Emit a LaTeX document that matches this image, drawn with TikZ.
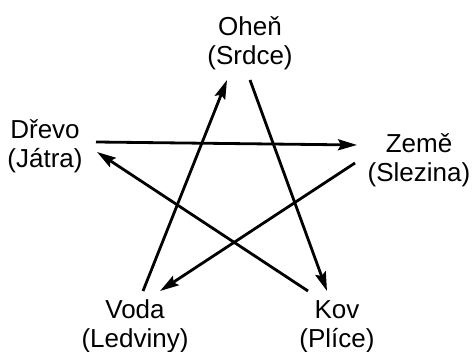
\documentclass[tikz,border=0pt]{standalone}
\usepackage{fontspec}
\setmainfont{Liberation Sans}
\usetikzlibrary{arrows.meta}
\begin{document}
\begin{tikzpicture}[x=1pt,y=1pt,
  lbl/.style={align=center,anchor=base,inner sep=0pt,font=\fontsize{26}{29}\selectfont},
  conn/.style={line width=2.8pt,-{Stealth[length=19pt,width=11pt,inset=3pt]}}]
\useasboundingbox (0,0) rectangle (473,-352);
\node[lbl] (ohen)  at (250,-65)  {Oheň\\(Srdce)};
\node[lbl] (drevo) at (45,-168)  {Dřevo\\(Játra)};
\node[lbl] (zeme)  at (419,-182) {Země\\(Slezina)};
\node[lbl] (voda)  at (135,-347) {Voda\\(Ledviny)};
\node[lbl] (kov)   at (337,-347) {Kov\\(Plíce)};
\draw[conn] ([xshift=51pt,yshift=26pt]drevo.base) -- ([xshift=-62pt,yshift=37pt]zeme.base);
\draw[conn] ([xshift=-64pt,yshift=19pt]zeme.base) -- ([xshift=25pt,yshift=56pt]voda.base);
\draw[conn] ([xshift=8pt,yshift=56pt]voda.base) -- ([xshift=-23pt,yshift=-15pt]ohen.base);
\draw[conn] ([xshift=0pt,yshift=-15pt]ohen.base) -- ([xshift=-10pt,yshift=56pt]kov.base);
\draw[conn] ([xshift=-29pt,yshift=56pt]kov.base) -- ([xshift=52pt,yshift=16pt]drevo.base);
\end{tikzpicture}
\end{document}
